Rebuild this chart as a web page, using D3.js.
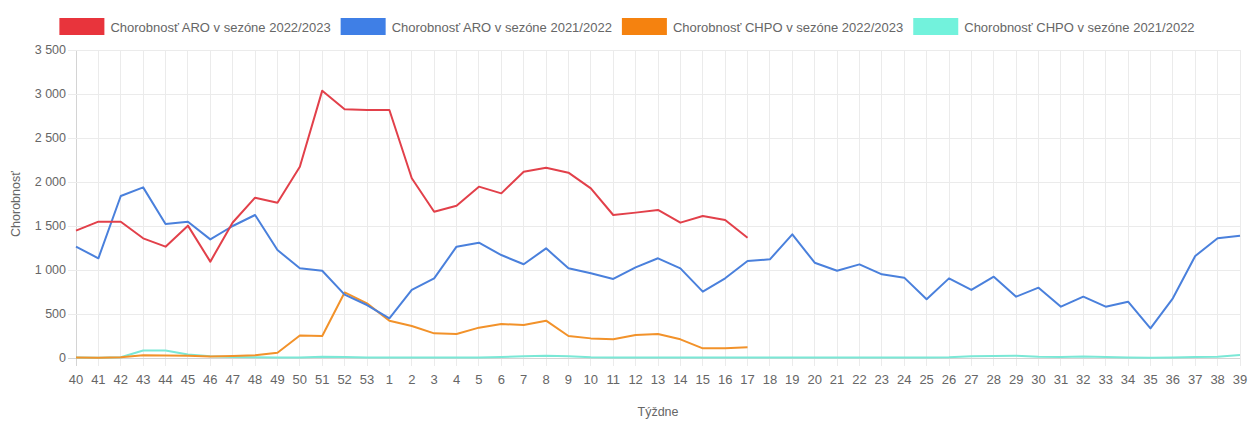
<!DOCTYPE html>
<html><head><meta charset="utf-8">
<script src="https://cdn.jsdelivr.net/npm/d3@7"></script>
<style>
html,body{margin:0;padding:0;background:#fff;}
svg{display:block;font-family:"Liberation Sans",Arial,sans-serif;}
</style></head>
<body>
<svg id="chart" width="1248" height="421"></svg>
<script>
const weeks = ["40","41","42","43","44","45","46","47","48","49","50","51","52","53","1","2","3","4","5","6","7","8","9","10","11","12","13","14","15","16","17","18","19","20","21","22","23","24","25","26","27","28","29","30","31","32","33","34","35","36","37","38","39"];
const yTicks = [0,500,1000,1500,2000,2500,3000,3500];
const seriesNames = ["Chorobnosť ARO v sezóne 2022/2023","Chorobnosť ARO v sezóne 2021/2022","Chorobnosť CHPO v sezóne 2022/2023","Chorobnosť CHPO v sezóne 2021/2022"];
const aro2223 = [1447,1549,1549,1360,1265,1504,1095,1540,1822,1765,2174,3038,2826,2818,2818,2042,1662,1731,1947,1871,2117,2163,2106,1928,1625,1652,1682,1538,1614,1568,1367];
const aro2122 = [1265,1133,1841,1939,1523,1549,1348,1500,1625,1227,1019,992,720,602,451,773,905,1265,1310,1170,1065,1246,1019,962,898,1030,1133,1019,754,906,1102,1121,1405,1083,992,1064,951,913,667,905,773,924,697,799,583,697,583,640,337,678,1159,1360,1390];
const chpo2223 = [5,3,8,30,28,25,18,22,30,60,255,250,745,621,424,364,280,273,345,386,375,424,250,223,212,261,273,212,110,110,121];
const chpo2122 = [5,3,8,85,85,40,20,12,8,5,5,15,12,5,5,5,5,5,5,10,20,25,20,8,5,5,5,5,5,5,5,5,5,5,5,5,5,5,5,8,20,22,25,15,12,18,12,5,3,5,10,15,35];
const colors = ["#e8343c","#3f7fe6","#f5820f","#72f2dc"];
const lineColors = ["#e2404a","#4a80dc","#f2922a","#7ae8d6"];

(function(){
const svg = d3.select("#chart");
const L = 76, R = 1240, T = 50, B = 358;
const x = d3.scalePoint().domain(weeks).range([L, R]);
const y = d3.scaleLinear().domain([0,3500]).range([B, T]);

const grid = svg.append("g");
grid.selectAll("line.v").data(weeks).join("line")
  .attr("x1", d=>x(d)).attr("x2", d=>x(d)).attr("y1", T).attr("y2", B+8)
  .attr("stroke", d=> d==="40" ? "#d4d4d4" : "#ebebeb").attr("stroke-width",1).attr("shape-rendering","crispEdges");
grid.selectAll("line.h").data(yTicks).join("line")
  .attr("x1", L-8).attr("x2", R).attr("y1", d=>y(d)).attr("y2", d=>y(d))
  .attr("stroke", d=> d===0 ? "#d4d4d4" : "#ebebeb").attr("stroke-width",1).attr("shape-rendering","crispEdges");

const fmt = v => d3.format(",")(v).replace(/,/g," ");
svg.append("g").selectAll("text").data(yTicks).join("text")
  .attr("x", L-10).attr("y", d=>y(d)).attr("dy","0.35em").attr("text-anchor","end")
  .attr("font-size",12.5).attr("fill","#666").text(fmt);
svg.append("g").selectAll("text").data(weeks).join("text")
  .attr("x", d=>x(d)).attr("y", B+26).attr("text-anchor","middle")
  .attr("font-size",13).attr("fill","#666").text(d=>d);

svg.append("text").attr("transform",`translate(20,${(T+B)/2}) rotate(-90)`)
  .attr("text-anchor","middle").attr("font-size",12.5).attr("fill","#666").text("Chorobnosť");
svg.append("text").attr("x",(L+R)/2).attr("y",416).attr("text-anchor","middle")
  .attr("font-size",12.5).attr("fill","#666").text("Týždne");

const allData = [aro2223, aro2122, chpo2223, chpo2122];
const line = d3.line().x((d,i)=>x(weeks[i])).y(d=>y(d));
[3,2,1,0].forEach(k=>{
  svg.append("path").datum(allData[k]).attr("d", line)
    .attr("fill","none").attr("stroke", lineColors[k]).attr("stroke-width",2)
    .attr("stroke-linejoin","round");
});

const lg = svg.append("g");
const items = [];
seriesNames.forEach((n,i)=>{
  const g = lg.append("g");
  g.append("rect").attr("x",0).attr("y",18).attr("width",45).attr("height",17).attr("fill",colors[i]);
  const t = g.append("text").attr("x",51).attr("y",27).attr("dy","0.35em").attr("font-size",13).attr("fill","#666").text(n);
  const w = 51 + t.node().getComputedTextLength();
  items.push({g, w});
});
const gap = 10;
const total = d3.sum(items, d=>d.w) + gap*(items.length-1);
let start = 627 - total/2;
items.forEach(it=>{ it.g.attr("transform",`translate(${start},0)`); start += it.w + gap; });
})();
</script>
</body></html>
